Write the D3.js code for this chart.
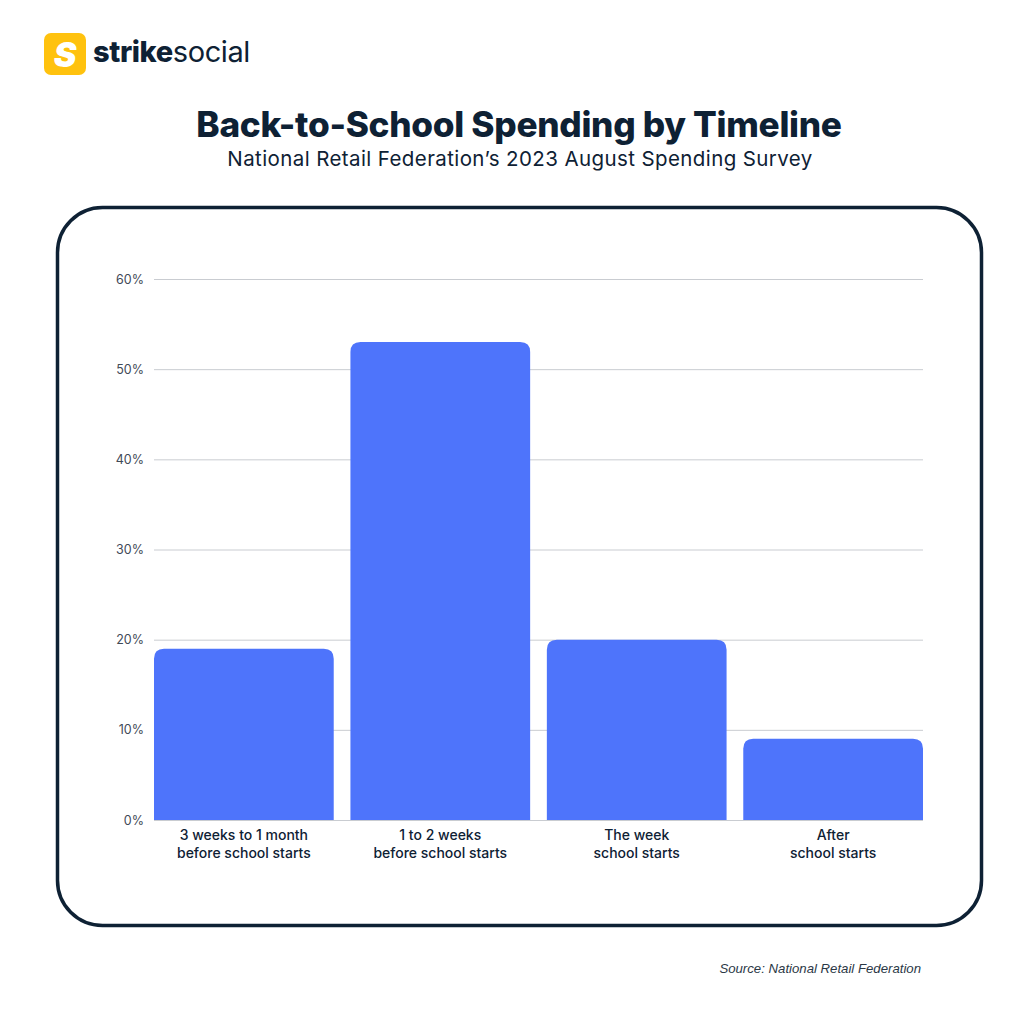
<!DOCTYPE html>
<html><head><meta charset="utf-8">
<script src="https://cdn.jsdelivr.net/npm/d3@7"></script>
<style>html,body{margin:0;padding:0;background:#fff;}svg{display:block;font-family:Inter,"Noto Sans",sans-serif;}</style>
</head><body>
<svg id="c" width="1024" height="1024"></svg>
<script>
const categories = [["3 weeks to 1 month","before school starts"],["1 to 2 weeks","before school starts"],["The week","school starts"],["After","school starts"]];
const values = [19, 53, 20, 9];
const yTicks = [0, 10, 20, 30, 40, 50, 60];
const title = "Back-to-School Spending by Timeline";
const subtitle = "National Retail Federation’s 2023 August Spending Survey";
const source = "Source: National Retail Federation";

const svg = d3.select("#c");
const navy = "#0e2134";

// logo
svg.append("rect").attr("x",44).attr("y",33).attr("width",42).attr("height",42).attr("rx",7).attr("fill","#FFC20E");
svg.append("text").attr("x",65).attr("y",67).attr("text-anchor","middle").attr("font-size",34).attr("font-weight",900).attr("fill","#fff").attr("font-style","italic").text("S");
const lt = svg.append("text").attr("x",93).attr("y",62).attr("font-size",29).attr("fill",navy).attr("letter-spacing","-0.4");
lt.append("tspan").attr("font-weight",800).text("strike");
lt.append("tspan").attr("font-weight",400).text("social");

// titles
svg.append("text").attr("x",519).attr("y",137).attr("text-anchor","middle").attr("font-size",35.2).attr("font-weight",800).attr("fill",navy).attr("letter-spacing","-0.3").text(title);
svg.append("text").attr("x",520).attr("y",166).attr("text-anchor","middle").attr("font-size",20.5).attr("font-weight",400).attr("fill",navy).attr("letter-spacing","0.4").text(subtitle);

// frame
svg.append("rect").attr("x",57.5).attr("y",207.5).attr("width",924).attr("height",718).attr("rx",45).attr("fill","none").attr("stroke",navy).attr("stroke-width",3.5);

// scales
const x = d3.scaleBand().domain(d3.range(categories.length)).range([154, 923]).paddingInner(0.085).paddingOuter(0);
const y = d3.scaleLinear().domain([0, 60]).range([820, 279]);

// grid
svg.append("g").selectAll("line").data(yTicks).join("line")
  .attr("x1",154).attr("x2",923).attr("y1",d=>y(d)+0.5).attr("y2",d=>y(d)+0.5)
  .attr("stroke","#c9ccd1").attr("stroke-width",1);

// y axis labels
const yAxis = d3.axisLeft(y).tickValues(yTicks).tickSize(0).tickPadding(8).tickFormat(d=>d+"%");
const ga = svg.append("g").attr("transform","translate(152,0)").call(yAxis);
ga.select(".domain").remove();
ga.selectAll("text").attr("font-size",12.5).attr("fill","#3f4a57").attr("font-family",'Inter,"Noto Sans",sans-serif').attr("dy","0.32em");

// bars with rounded top corners
const r = 10;
function barPath(x0, w, yt, yb){
  return `M${x0},${yb}V${yt+r}Q${x0},${yt} ${x0+r},${yt}H${x0+w-r}Q${x0+w},${yt} ${x0+w},${yt+r}V${yb}Z`;
}
svg.append("g").selectAll("path").data(values).join("path")
  .attr("d",(d,i)=>barPath(x(i), x.bandwidth(), y(d), y(0)))
  .attr("fill","#4E74FB");

// category labels
const cl = svg.append("g").selectAll("text").data(categories).join("text")
  .attr("x",(d,i)=>x(i)+x.bandwidth()/2).attr("y",840)
  .attr("text-anchor","middle").attr("font-size",14).attr("font-weight",500).attr("fill",navy);
cl.selectAll("tspan").data(d=>d).join("tspan")
  .attr("x",function(){return this.parentNode.getAttribute("x");})
  .attr("dy",(d,i)=>i===0?0:"1.27em").text(d=>d);

// source
svg.append("text").attr("x",921).attr("y",973).attr("text-anchor","end").attr("font-size",13.2).attr("font-style","italic").attr("fill","#2b3846").attr("font-family",'"Liberation Sans",Arial,sans-serif').text(source);
</script>
</body></html>
